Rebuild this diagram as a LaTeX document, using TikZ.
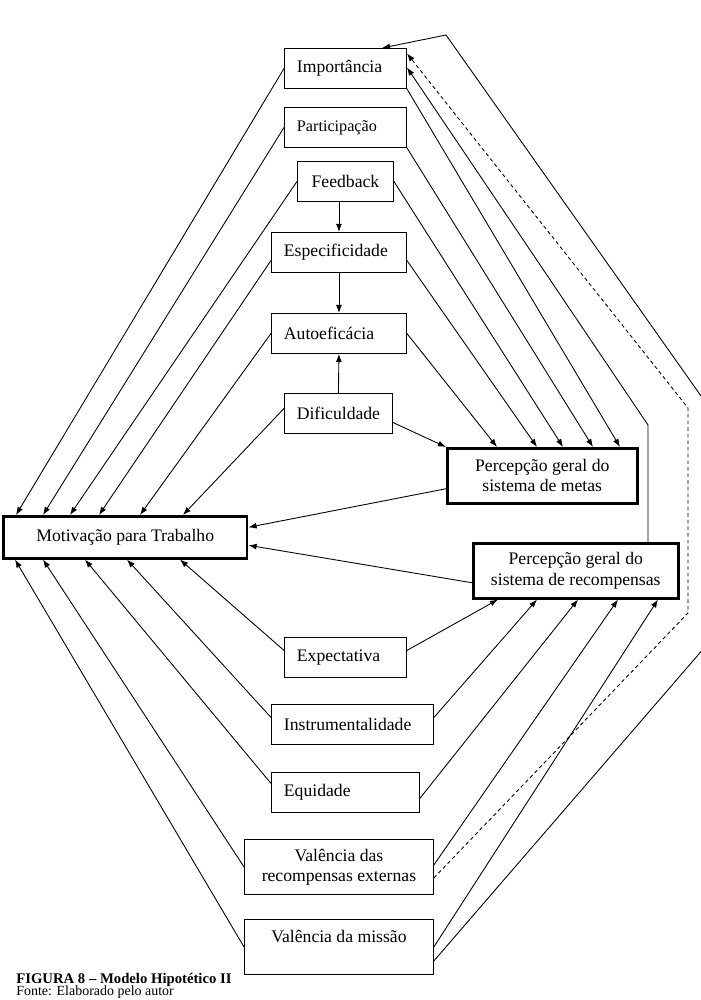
\documentclass[tikz,border=0pt]{standalone}
\usepackage{fontspec}
\setmainfont{Liberation Serif}
\usepackage{tikz}
\usetikzlibrary{arrows.meta, positioning, calc}

\begin{document}
\begin{tikzpicture}[
    x=0.68pt, y=-0.68pt,
    factor/.style={draw, line width=0.6pt, anchor=north west, minimum height=27.2pt, inner xsep=8.5pt, inner ysep=0pt, align=left, font=\fontsize{12}{13.8}\selectfont},
    centred/.style={factor, align=center, inner xsep=0pt},
    outcome/.style={factor, line width=1.7pt, align=center, inner xsep=0pt, minimum height=37.4pt},
    arrow/.style={-{Latex[length=5.5pt, width=4pt]}, line width=0.6pt},
    dasharrow/.style={arrow, dash pattern=on 2.5pt off 2pt}
]
    \useasboundingbox (0,0) rectangle (700,1000);

    % Nodes - goal factors
    \node[factor, text width=66pt] (imp) at (284,48) {Importância};
    \node[factor, text width=66pt, font=\fontsize{11}{13}\selectfont] (part) at (284,107) {Participação};
    \node[centred, minimum width=65.3pt] (feed) at (297,161) {Feedback};
    \node[factor, text width=74.8pt] (espec) at (271,232) {Especificidade};
    \node[factor, text width=74.8pt] (auto) at (271,313) {Autoeficácia};
    \node[centred, minimum width=73.4pt] (dif) at (284,393) {Dificuldade};

    % Nodes - perceptions and motivation
    \node[outcome, minimum width=129.2pt] (metas) at (446,447) {Percepção geral do\\sistema de metas};
    \node[outcome, minimum width=165.9pt, minimum height=28.6pt] (mot) at (2,515) {Motivação para Trabalho};
    \node[outcome, minimum width=139.4pt] (recomp) at (472,542) {Percepção geral do\\sistema de recompensas};

    % Nodes - reward factors
    \node[factor, text width=66pt] (expec) at (284,637) {Expectativa};
    \node[factor, text width=93.2pt] (instr) at (271,704) {Instrumentalidade};
    \node[factor, text width=83.6pt] (equid) at (271,772) {Equidade};
    \node[centred, minimum width=128.5pt, minimum height=37.4pt] (valrec) at (244,839) {Valência das\\recompensas externas};
    \node[centred, minimum width=128.5pt, minimum height=37.4pt] (valmis) at (244,919) {Valência da missão\\\mbox{}};

    % Caption
    \node[anchor=base west, inner sep=0pt, font=\fontsize{10}{12}\selectfont\bfseries] (caption) at (16,983) {FIGURA 8 – Modelo Hipotético II};
    \node[anchor=base west, inner sep=0pt, font=\fontsize{9.5}{11}\selectfont] (source) at (16,995) {Fonte: Elaborado pelo autor};

    % Arrows - goal chain
    \draw[arrow] (feed.south -| espec.north) -- (espec.north);
    \draw[arrow] (espec.south) -- (auto.north);
    \draw[arrow] (dif.north) -- (auto.south);

    % Arrows - goal factors to motivation
    \draw[arrow] (imp.west) -- ($(mot.north west)+(14,0)$);
    \draw[arrow] (part.west) -- ($(mot.north west)+(41,0)$);
    \draw[arrow] (feed.west) -- ($(mot.north west)+(68,0)$);
    \draw[arrow] ($(espec.west)+(0,8)$) -- ($(mot.north west)+(97,0)$);
    \draw[arrow] (auto.west) -- ($(mot.north west)+(138,0)$);
    \draw[arrow] ($(dif.west)+(0,-5)$) -- ($(mot.north west)+(181,0)$);

    % Arrows - goal factors to goal perception
    \draw[arrow] ($(dif.east)+(0,9)$) -- (metas.north west);
    \draw[arrow] (auto.east) -- ($(metas.north west)+(51,0)$);
    \draw[arrow] ($(espec.east)+(0,8)$) -- ($(metas.north west)+(91,0)$);
    \draw[arrow] (feed.east) -- ($(metas.north west)+(117,0)$);
    \draw[arrow] (part.south east) -- ($(metas.north west)+(147,0)$);
    \draw[arrow] (imp.south east) -- ($(metas.north west)+(174,0)$);

    % Arrows - perceptions to motivation
    \draw[arrow] ($(metas.west)+(0,13)$) -- ($(mot.east)+(0,-10)$);
    \draw[arrow] ($(recomp.west)+(0,12)$) -- ($(mot.east)+(0,8)$);

    % Arrows - reward factors to motivation
    \draw[arrow] ($(expec.west)+(0,-7)$) -- ($(mot.south west)+(178,0)$);
    \draw[arrow] ($(instr.west)+(0,-7)$) -- ($(mot.south west)+(125,0)$);
    \draw[arrow] ($(equid.west)+(0,-9)$) -- ($(mot.south west)+(83,0)$);
    \draw[arrow] (valrec.west) -- ($(mot.south west)+(41,0)$);
    \draw[arrow] (valmis.west) -- ($(mot.south west)+(13,0)$);

    % Arrows - reward factors to reward perception
    \draw[arrow] ($(expec.east)+(0,-7)$) -- ($(recomp.south west)+(26,0)$);
    \draw[arrow] ($(instr.east)+(0,-7)$) -- ($(recomp.south west)+(65,0)$);
    \draw[arrow] ($(equid.east)+(0,6)$) -- ($(recomp.south west)+(106,0)$);
    \draw[arrow] ($(valrec.east)+(0,-2)$) -- ($(recomp.south west)+(146,0)$);
    \draw[arrow] (valmis.east) -- ($(recomp.south west)+(186,0)$);

    % Arrows - back to importance
    \coordinate (dashlow) at (688,613);
    \coordinate (dashup) at (688,408);
    \draw[dasharrow] ($(valrec.east)+(0,11)$) -- (dashlow) -- (dashup) -- ($(imp.east)+(0,-15)$);
    \coordinate (recbend) at (648,425);
    \draw[arrow] ($(recomp.north west)+(176,0)$) -- (recbend) -- ($(imp.east)+(0,-1)$);
    \coordinate (outlow) at (730,618);
    \coordinate (outup) at (730,437);
    \coordinate (topbend) at (446,35);
    \draw[arrow] ($(valmis.east)+(0,14)$) -- (outlow) -- (outup) -- (topbend) -- ($(imp.north west)+(98,0)$);
\end{tikzpicture}
\end{document}
